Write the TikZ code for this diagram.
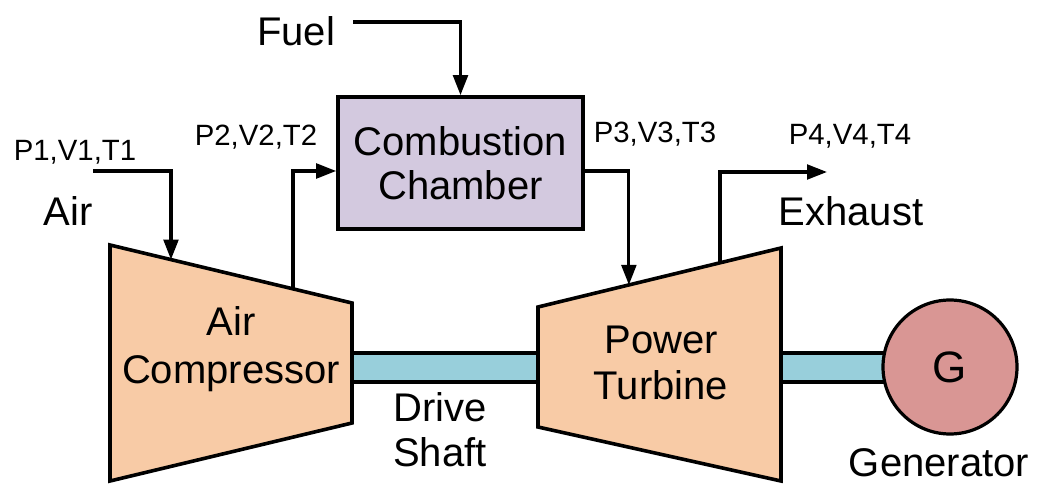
\documentclass[tikz,border=0pt]{standalone}
\usepackage{fontspec}
\setmainfont{Liberation Sans}
\usetikzlibrary{arrows.meta,calc}
\definecolor{peach}{HTML}{F8CBA6}
\definecolor{lilac}{HTML}{D3C9DF}
\definecolor{shaftblue}{HTML}{98CFDB}
\definecolor{genred}{HTML}{D99694}
\tikzset{
  big/.style={font=\fontsize{30}{34}\selectfont, align=center, inner sep=0pt},
  small/.style={font=\fontsize{22}{26}\selectfont, inner sep=0pt},
  part/.style={draw=black, line width=2.7pt, line join=miter},
  flow/.style={draw=black, line width=2.4pt, -{Triangle[length=15pt,width=11pt]}},
}
\begin{document}
\begin{tikzpicture}[x=0.75pt,y=-0.75pt]
\useasboundingbox (0,0) rectangle (1038,484);
% shafts
\node[part, fill=shaftblue, minimum width=186*0.75pt, minimum height=29*0.75pt, inner sep=0pt] (shaft) at (445,367.5) {};
\node[part, fill=shaftblue, minimum width=110*0.75pt, minimum height=29*0.75pt, inner sep=0pt] (gshaft) at (834,367.5) {};
% compressor
\coordinate (ctl) at (110,245);
\coordinate (ctr) at (352,303);
\coordinate (cbr) at (352,423);
\coordinate (cbl) at (110,481);
\draw[part, fill=peach] (ctl) -- (ctr) -- (cbr) -- (cbl) -- cycle;
% turbine
\coordinate (ttl) at (538,307);
\coordinate (ttr) at (781,248);
\coordinate (tbr) at (781,481);
\coordinate (tbl) at (538,427);
\draw[part, fill=peach] (ttl) -- (ttr) -- (tbr) -- (tbl) -- cycle;
% combustion chamber
\node[part, fill=lilac, minimum width=245*0.75pt, minimum height=132*0.75pt, inner sep=0pt] (cc) at (460.5,163) {};
\node[big] (cctext) at (460.5,163) {Combustion\\[-1pt]Chamber};
% generator
\node[part, circle, fill=genred, minimum size=134*0.75pt, inner sep=0pt, line width=2.4pt] (gen) at (950,367) {};
\node[font=\fontsize{33}{36}\selectfont, inner sep=0pt] (gtext) at (950,367) {G};
% texts
\node[big] (fuel) at (296,31) {Fuel};
\node[small] (p1) at (75,152) {P1,V1,T1};
\node[big] (air) at (68,211) {Air};
\node[small] (p2) at (256,137) {P2,V2,T2};
\node[small] (p3) at (655,134) {P3,V3,T3};
\node[small] (p4) at (850,136) {P4,V4,T4};
\node[big] (exh) at (851,211) {Exhaust};
\node[big] (comp) at (231,349) {Air\\[2pt]Compressor};
\node[big] (turb) at (661,363) {Power\\Turbine};
\node[big] (drive) at (440,430) {Drive\\Shaft};
\node[big] (gen lbl) at (939,463) {Generator};
% flow coordinates
\coordinate (fuelstart) at (353,22);
\coordinate (airstart) at (93,171);
\coordinate (airin) at ($(ctl)!0.252!(ctr)$);
\coordinate (cout) at ($(ctl)!0.756!(ctr)$);
\coordinate (tin) at ($(ttl)!0.374!(ttr)$);
\coordinate (tout) at ($(ttl)!0.749!(ttr)$);
\coordinate (exend) at (827,172);
% flows
\draw[flow] (fuelstart) -| (cc.north);
\draw[flow] (airstart) -| (airin);
\draw[flow] (cout) |- (cc.west |- 0,171);
\draw[flow] (cc.east |- 0,171) -| (tin);
\draw[flow] (tout) |- (exend);
\end{tikzpicture}
\end{document}
